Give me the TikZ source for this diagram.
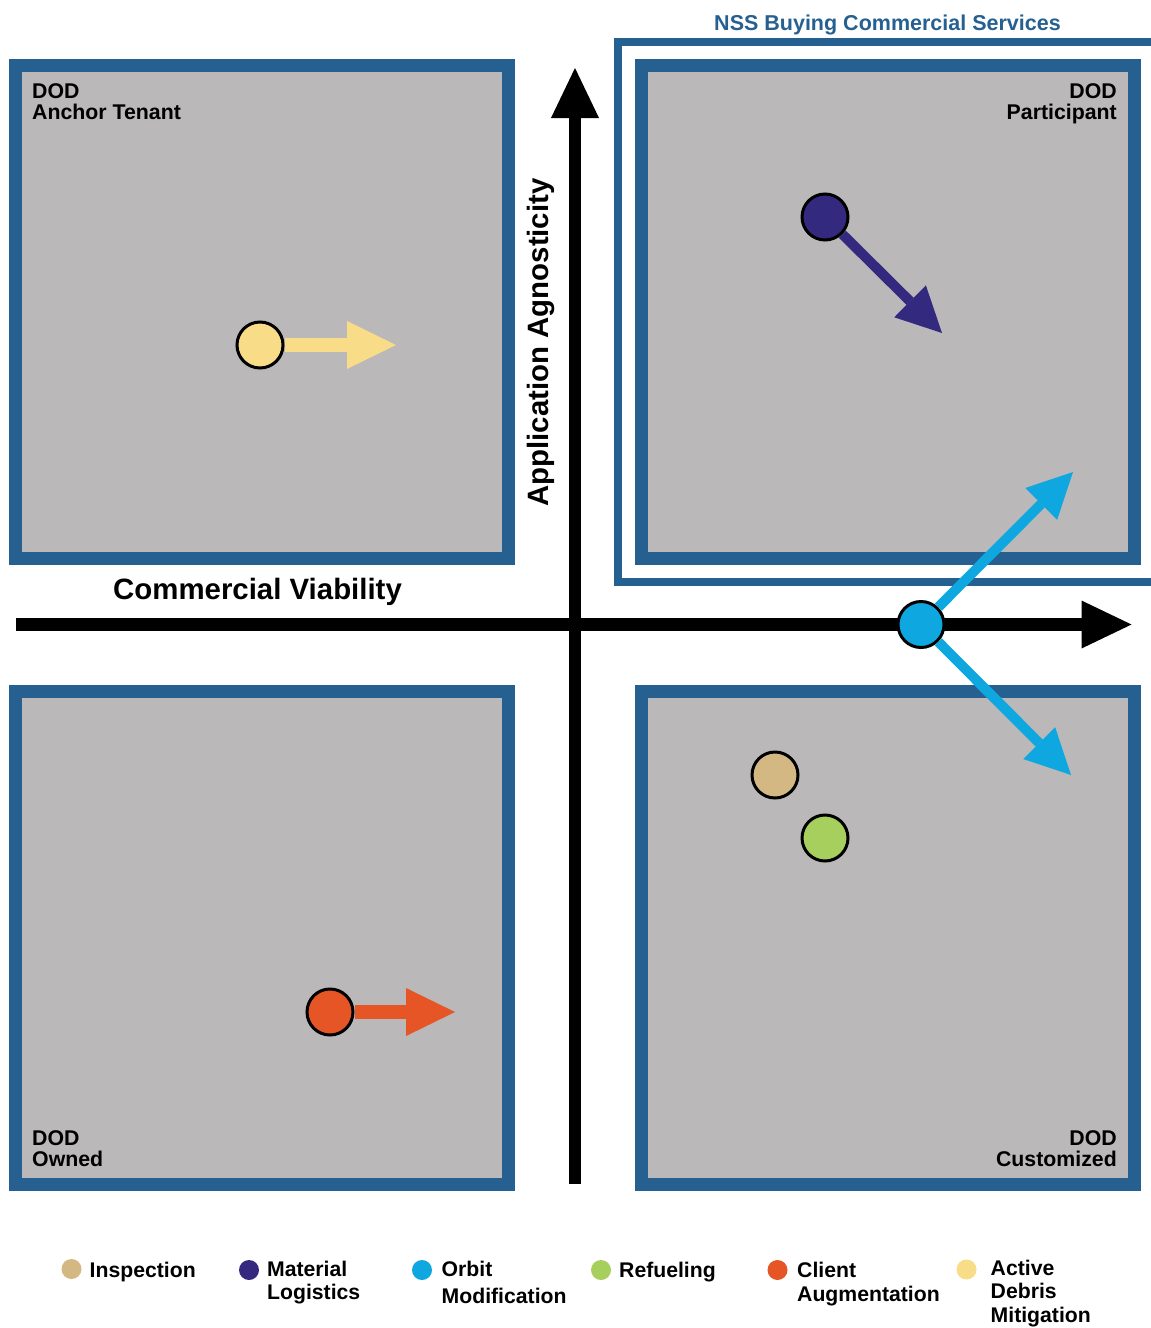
\documentclass[tikz,border=0pt]{standalone}
\usepackage{fontspec}
\setmainfont{Liberation Sans}
\usetikzlibrary{arrows.meta}
\definecolor{qblue}{HTML}{266091}
\definecolor{qgray}{HTML}{BAB8B9}
\definecolor{cyellow}{HTML}{F8DC88}
\definecolor{corange}{HTML}{E55526}
\definecolor{cnavy}{HTML}{332A80}
\definecolor{ccyan}{HTML}{0EA7DF}
\definecolor{ctan}{HTML}{D4B883}
\definecolor{cgreen}{HTML}{A6CF5D}
\newcommand\mystackl[1]{\begin{tabular}[t]{@{}l@{}}#1\end{tabular}}
\newcommand\mystackr[1]{\begin{tabular}[t]{@{}r@{}}#1\end{tabular}}
\begin{document}
\begin{tikzpicture}[x=1pt,y=-1pt,
  quad/.style={draw=qblue, line width=13pt, fill=qgray},
  axisline/.style={line width=12.5pt, -{Triangle[length=50pt,width=48pt,line width=0pt]}},
  dot/.style={circle, draw=black, line width=3pt, minimum size=46pt, inner sep=0pt},
  hshaft/.style={line width=14pt, -{Triangle[length=49pt,width=48pt,line width=0pt]}},
  dshaft/.style={line width=10pt, -{Triangle[length=45pt,width=45pt,line width=0pt]}},
  lab/.style={font=\fontsize{21.3}{21}\selectfont\bfseries, inner sep=0pt},
  biglab/.style={font=\fontsize{29.4}{29}\selectfont\bfseries, inner sep=0pt},
  legdot/.style={circle, minimum size=20pt, inner sep=0pt},
  legtxt/.style={font=\fontsize{21.2}{23.5}\selectfont\bfseries, inner sep=0pt, anchor=base west}]
\useasboundingbox (0,0) rectangle (1151,1328);

% quadrants
\draw[quad] (15.5,65.5) rectangle (508.5,558.5);
\draw[quad] (641.5,65.5) rectangle (1134.5,558.5);
\draw[quad] (15.5,691.5) rectangle (508.5,1184.5);
\draw[quad] (641.5,691.5) rectangle (1134.5,1184.5);

% NSS frame
\draw[qblue, line width=8pt, line join=miter] (1151,42) -- (618,42) -- (618,581.5) -- (1151,581.5);
\node[lab, font=\fontsize{21.5}{21}\selectfont\bfseries, text=qblue, anchor=base] (nss) at (887.5,30) {NSS Buying Commercial Services};

% quadrant labels
\node[lab, anchor=base west] (qtl) at (32,98) {\mystackl{DOD\\Anchor Tenant}};
\node[lab, anchor=base east] (qtr) at (1117,98) {\mystackr{DOD\\Participant}};
\node[lab, anchor=base west] (qbl) at (32,1145) {\mystackl{DOD\\Owned}};
\node[lab, anchor=base east] (qbr) at (1117,1145) {\mystackr{DOD\\Customized}};

% axes
\coordinate (xs) at (16,624.5);
\coordinate (xe) at (1131.5,624.5);
\coordinate (ys) at (575,1184);
\coordinate (ye) at (575,68);
\draw[axisline] (xs) -- (xe);
\draw[axisline] (ys) -- (ye);
\node[biglab, anchor=base west] (cv) at (113,599) {Commercial Viability};
\node[biglab, rotate=90, anchor=base] (aa) at (548,342.5) {Application Agnosticity};

% markers
\node[dot, fill=cyellow] (adm) at (260,345) {};
\coordinate (admt) at (396,345);
\draw[hshaft, cyellow] (adm) -- (admt);

\node[dot, fill=corange] (ca) at (330,1012) {};
\coordinate (cat) at (455,1012);
\draw[hshaft, corange] (ca) -- (cat);

\node[dot, fill=cnavy] (ml) at (825,217) {};
\coordinate (mlt) at (942,333);
\draw[dshaft, cnavy] (ml) -- (mlt);

\node[dot, fill=ccyan] (om) at (921,624.5) {};
\coordinate (omu) at (1073,472);
\coordinate (omd) at (1071,775);
\draw[dshaft, ccyan] (om) -- (omu);
\draw[dshaft, ccyan] (om) -- (omd);

\node[dot, fill=ctan] (insp) at (775,775) {};
\node[dot, fill=cgreen] (ref) at (825,838) {};

% legend
\node[legdot, fill=ctan] (l1d) at (71.5,1269) {};
\node[legtxt] (l1t) at (89.5,1277.5) {Inspection};
\node[legdot, fill=cnavy] (l2d) at (249,1270) {};
\node[legtxt, font=\fontsize{21.2}{23}\selectfont\bfseries] (l2t) at (267,1276) {\mystackl{Material\\Logistics}};
\node[legdot, fill=ccyan] (l3d) at (422,1270) {};
\node[legtxt, font=\fontsize{21.2}{27}\selectfont\bfseries] (l3t) at (441.5,1276.7) {\mystackl{Orbit\\Modification}};
\node[legdot, fill=cgreen] (l4d) at (601,1270) {};
\node[legtxt] (l4t) at (619,1277) {Refueling};
\node[legdot, fill=corange] (l5d) at (777.5,1270) {};
\node[legtxt, font=\fontsize{21.2}{24}\selectfont\bfseries] (l5t) at (797,1277) {\mystackl{Client\\Augmentation}};
\node[legdot, fill=cyellow] (l6d) at (966.5,1269.5) {};
\node[legtxt, font=\fontsize{21.2}{23.7}\selectfont\bfseries] (l6t) at (990.5,1275) {\mystackl{Active\\Debris\\Mitigation}};
\end{tikzpicture}
\end{document}
